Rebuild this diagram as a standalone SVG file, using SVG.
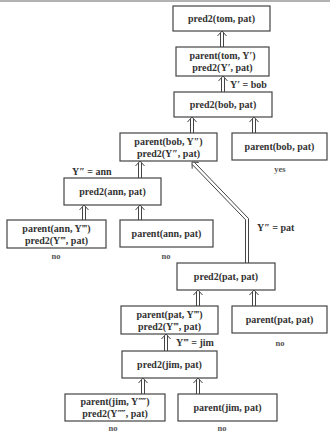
<svg xmlns="http://www.w3.org/2000/svg" width="330" height="433" viewBox="0 0 330 433">
<style>
.box{fill:#fff;stroke:#444;stroke-width:1.2}
.t{font-family:"Liberation Serif","DejaVu Serif",serif;font-weight:bold;font-size:10px;fill:#333;text-anchor:middle}
.l{font-family:"Liberation Serif","DejaVu Serif",serif;font-weight:bold;font-size:10px;fill:#333}
.s{font-family:"Liberation Serif","DejaVu Serif",serif;font-weight:bold;font-size:8.5px;fill:#555;text-anchor:middle}
.ar{fill:none;stroke:#444;stroke-width:1}
</style>
<rect width="330" height="433" fill="#fff"/>
<line x1="0" y1="1" x2="330" y2="1" stroke="#999" stroke-width="1.5"/>
<g id="connectors">
<path class="ar" d="M220.5,47V33M223.5,47V33M217.5,36L222,31L226.5,36"/>
<path class="ar" d="M221.5,92V78M224.5,92V78M218.5,81L223,76L227.5,81"/>
<path class="ar" d="M190.5,133V119M193.5,133V119M187.5,122L192,117L196.5,122"/>
<path class="ar" d="M252.5,133V119M255.5,133V119M249.5,122L254,117L258.5,122"/>
<path class="ar" d="M138.5,178V163M141.5,178V163M135.5,166L140,161L144.5,166"/>
<path class="ar" d="M82.5,220V207M85.5,220V207M79.5,210L84,205L88.5,210"/>
<path class="ar" d="M138.5,220V207M141.5,220V207M135.5,210L140,205L144.5,210"/>
<path class="ar" d="M194.5,162.4L248.5,218.5V263M192.3,164.5L245.5,219.7V263M198.7,162.5L192,162L192.2,168.7"/>
<path class="ar" d="M196.5,306V292M199.5,306V292M193.5,295L198,290L202.5,295"/>
<path class="ar" d="M252.5,306V292M255.5,306V292M249.5,295L254,290L258.5,295"/>
<path class="ar" d="M164.5,351V336M167.5,351V336M161.5,339L166,334L170.5,339"/>
<path class="ar" d="M141.5,394V380M144.5,394V380M138.5,383L143,378L147.5,383"/>
<path class="ar" d="M196.5,394V380M199.5,394V380M193.5,383L198,378L202.5,383"/>
<text class="l" x="230" y="88">Y′ = bob</text>
<text class="l" x="72" y="175">Y″ = ann</text>
<text class="l" x="257" y="231">Y″ = pat</text>
<text class="l" x="176" y="346">Y‴ = jim</text>
</g>
<g id="n1"><rect class="box" x="173" y="6" width="97" height="25"/><text class="t" x="221.5" y="22">pred2(tom, pat)</text></g>
<g id="n2"><rect class="box" x="176" y="47" width="93" height="29"/><text class="t" x="222.5" y="59">parent(tom, Y′)</text><text class="t" x="222.5" y="71">pred2(Y′, pat)</text></g>
<g id="n3"><rect class="box" x="174" y="92" width="98" height="25"/><text class="t" x="223" y="108">pred2(bob, pat)</text></g>
<g id="n4"><rect class="box" x="120" y="133" width="97" height="28"/><text class="t" x="168.5" y="145">parent(bob, Y″)</text><text class="t" x="168.5" y="157">pred2(Y″, pat)</text></g>
<g id="n5"><rect class="box" x="232" y="133" width="95" height="27"/><text class="t" x="279.5" y="150">parent(bob, pat)</text><text class="s" x="280" y="172">yes</text></g>
<g id="n6"><rect class="box" x="64" y="178" width="97" height="27"/><text class="t" x="112.5" y="195">pred2(ann, pat)</text></g>
<g id="n7"><rect class="box" x="7" y="220" width="99" height="28"/><text class="t" x="56.5" y="232">parent(ann, Y‴)</text><text class="t" x="56.5" y="244">pred2(Y‴, pat)</text><text class="s" x="56" y="259">no</text></g>
<g id="n8"><rect class="box" x="120" y="220" width="93" height="27"/><text class="t" x="166.5" y="237">parent(ann, pat)</text><text class="s" x="166" y="259">no</text></g>
<g id="n9"><rect class="box" x="177" y="263" width="98" height="27"/><text class="t" x="226" y="280">pred2(pat, pat)</text></g>
<g id="n10"><rect class="box" x="121" y="306" width="97" height="28"/><text class="t" x="169.5" y="318">parent(pat, Y‴)</text><text class="t" x="169.5" y="330">pred2(Y‴, pat)</text></g>
<g id="n11"><rect class="box" x="232" y="306" width="95" height="27"/><text class="t" x="279.5" y="323">parent(pat, pat)</text><text class="s" x="280" y="346">no</text></g>
<g id="n12"><rect class="box" x="122" y="351" width="95" height="27"/><text class="t" x="169.5" y="368">pred2(jim, pat)</text></g>
<g id="n13"><rect class="box" x="65" y="394" width="100" height="27"/><text class="t" x="115" y="405">parent(jim, Y⁗)</text><text class="t" x="115" y="417">pred2(Y⁗, pat)</text><text class="s" x="113" y="431">no</text></g>
<g id="n14"><rect class="box" x="178" y="394" width="99" height="27"/><text class="t" x="227.5" y="411">parent(jim, pat)</text><text class="s" x="222" y="431">no</text></g>
</svg>
